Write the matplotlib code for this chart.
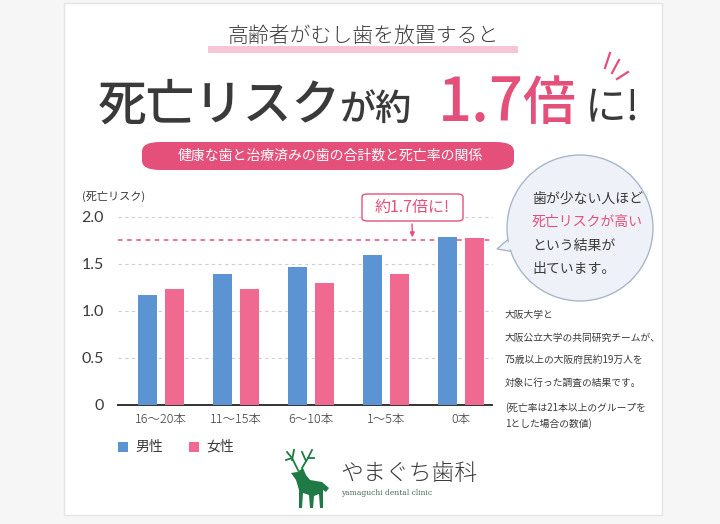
import matplotlib
matplotlib.use("Agg")
import matplotlib.pyplot as plt
from matplotlib.patches import FancyBboxPatch, Rectangle, Polygon, Ellipse
import numpy as np

plt.rcParams['font.family'] = ['Noto Sans CJK JP', 'DejaVu Sans']

categories = ["16～20本", "11～15本", "6～10本", "1～5本", "0本"]
male = [1.17, 1.39, 1.46, 1.59, 1.78]
female = [1.23, 1.23, 1.29, 1.39, 1.77]
yticks = [0, 0.5, 1.0, 1.5, 2.0]
ytick_labels = ["0", "0.5", "1.0", "1.5", "2.0"]
highlight_level = 1.75

BLUE = "#5b93d3"
PINK = "#f06990"
DARK = "#3a3a3a"
PINK_DARK = "#e4507a"

W, H = 720, 524
fig = plt.figure(figsize=(W / 100, H / 100), dpi=100)
fig.patch.set_facecolor("#f6f6f6")

def fx(x):
    return x / W

def fy(y):
    return 1 - y / H

# card
card = Rectangle((fx(64), fy(515)), fx(662) - fx(64), fy(3) - fy(515),
                 transform=fig.transFigure, facecolor="white",
                 edgecolor="#e4e4e4", lw=1.0, zorder=-5)
fig.patches.append(card)

# titles
fig.patches.append(Rectangle((fx(208), fy(53)), fx(518) - fx(208), fy(46) - fy(53),
                             transform=fig.transFigure, facecolor="#f4b3c7",
                             edgecolor="none", alpha=0.75, zorder=-4))
fig.text(fx(363), fy(42), "高齢者がむし歯を放置すると", fontsize=15, color=DARK,
         ha="center", va="baseline", fontweight="light", zorder=3)
fig.text(fx(98), fy(120), "死亡リスク", fontsize=35, color=DARK, ha="left",
         va="baseline", fontweight="medium")
fig.text(fx(340), fy(120), "が約", fontsize=26, color=DARK, ha="left",
         va="baseline", fontweight="medium")
fig.text(fx(438), fy(121), "1.7", fontsize=43, color=PINK_DARK, ha="left",
         va="baseline", fontweight="medium")
fig.text(fx(522), fy(120), "倍", fontsize=38, color=PINK_DARK, ha="left",
         va="baseline", fontweight="medium")
fig.text(fx(585), fy(120), "に!", fontsize=30, color=DARK, ha="left",
         va="baseline", fontweight="regular")
for (x1, y1, x2, y2) in [(610, 53, 605, 68), (619, 60, 612, 73), (628, 72, 617, 79)]:
    fig.lines.append(plt.Line2D([fx(x1), fx(x2)], [fy(y1), fy(y2)],
                                transform=fig.transFigure, color=PINK_DARK, lw=1.6))

# pill
pill = FancyBboxPatch((fx(142), fy(170)), fx(514) - fx(142), fy(142) - fy(170),
                      boxstyle="round,pad=0,rounding_size=0.025",
                      transform=fig.transFigure, facecolor=PINK_DARK,
                      edgecolor="none", mutation_aspect=524 / 720)
fig.patches.append(pill)
fig.text(fx(330), fy(156), "健康な歯と治療済みの歯の合計数と死亡率の関係",
         fontsize=10, color="white", ha="center", va="center")

# axes
ax = fig.add_axes([fx(118), fy(404.7), fx(492) - fx(118), fy(216.7) - fy(404.7)])
ax.set_zorder(2)
ax.set_facecolor("none")
x = np.arange(len(categories))
bw = 0.255
ax.bar(x - 0.18, male, width=bw, color=BLUE, zorder=3)
ax.bar(x + 0.18, female, width=bw, color=PINK, zorder=3)
ax.set_xlim(-0.573, 4.41)
ax.set_ylim(0, 2.0)
ax.set_yticks(yticks)
ax.set_yticklabels(ytick_labels, fontsize=11.5, color=DARK,
                   fontfamily=["Lato", "DejaVu Sans"], fontweight="normal")
ax.set_xticks(x)
ax.set_xticklabels(categories, fontsize=9, color=DARK, fontweight="light")
ax.tick_params(axis="y", length=0, pad=10)
ax.tick_params(axis="x", length=0, pad=6)
for s in ["top", "right", "left"]:
    ax.spines[s].set_visible(False)
ax.spines["bottom"].set_color("#333333")
ax.spines["bottom"].set_linewidth(1.4)
for yv in yticks[1:]:
    ax.axhline(yv, color="#cfcfcf", lw=0.8, ls=(0, (3, 3)), zorder=1, clip_on=False)
ax.axhline(highlight_level, color=PINK_DARK, lw=1.1, ls=(0, (3, 3)), zorder=2)

fig.text(fx(82), fy(196), "(死亡リスク)", fontsize=8, color=DARK, ha="left", va="center")

# callout
box = FancyBboxPatch((fx(362), fy(221)), fx(463) - fx(362), fy(194) - fy(221),
                     boxstyle="round,pad=0,rounding_size=0.008",
                     transform=fig.transFigure, facecolor="white",
                     edgecolor=PINK_DARK, lw=1.0, mutation_aspect=524 / 720, zorder=5)
fig.patches.append(box)
fig.text(fx(412.5), fy(207.5), "約1.7倍に!", fontsize=11.5, color=PINK_DARK,
         ha="center", va="center", zorder=6)
ax.annotate("", xy=(3.35, highlight_level + 0.03), xycoords="data",
            xytext=(fx(412), fy(224)), textcoords="figure fraction",
            arrowprops=dict(arrowstyle="-|>", color=PINK_DARK, lw=1.0,
                            mutation_scale=7, shrinkA=0, shrinkB=0))

# speech bubble
cx, cy, r = 580, 228, 73
tail = Polygon([(fx(512), fy(236)), (fx(497), fy(249)), (fx(515), fy(252))],
               closed=True, transform=fig.transFigure, facecolor="#eef2f8",
               edgecolor="#a9b6c8", lw=1.0, zorder=3)
fig.patches.append(tail)
circ = Ellipse((fx(cx), fy(cy)), 2 * r / W, 2 * r / H,
               transform=fig.transFigure, facecolor="#eef2f8",
               edgecolor="#a9b6c8", lw=1.0, zorder=4)
fig.patches.append(circ)
fig.patches.append(Polygon([(fx(514), fy(238)), (fx(500), fy(248.5)), (fx(518), fy(250))],
                           closed=True, transform=fig.transFigure,
                           facecolor="#eef2f8", edgecolor="none", zorder=5))
bubble_lines = [("歯が少ない人ほど", DARK), ("死亡リスクが高い", PINK_DARK),
                ("という結果が", DARK), ("出ています。", DARK)]
for i, (t, c) in enumerate(bubble_lines):
    fig.text(fx(532), fy(199 + i * 23.3), t, fontsize=10, color=c,
             ha="left", va="center", zorder=6)

note_lines = ["大阪大学と", "大阪公立大学の共同研究チームが、",
              "75歳以上の大阪府民約19万人を", "対象に行った調査の結果です。"]
for i, t in enumerate(note_lines):
    fig.text(fx(505), fy(315 + i * 22.7), t, fontsize=7, color=DARK,
             ha="left", va="center")
fig.text(fx(505), fy(408), "(死亡率は21本以上のグループを", fontsize=7, color=DARK,
         ha="left", va="center")
fig.text(fx(505), fy(424), "1とした場合の数値)", fontsize=7, color=DARK,
         ha="left", va="center")

# legend
for (lx, col, lab) in [(118, BLUE, "男性"), (189, PINK, "女性")]:
    fig.patches.append(Rectangle((fx(lx), fy(452)), 10 / W, 10 / H,
                                 transform=fig.transFigure, facecolor=col,
                                 edgecolor="none"))
    fig.text(fx(lx + 17), fy(447), lab, fontsize=10, color=DARK, ha="left", va="center")

# logo deer (decorative)
GREEN = "#1f7a45"
deer = [(297, 472), (303, 468), (306, 475), (310, 480), (322, 482), (329, 488),
        (326, 492), (323, 490), (323, 508), (320, 508), (319, 494), (314, 496),
        (313, 508), (310, 508), (309, 495), (303, 493), (302, 508), (299, 508),
        (299, 490), (296, 480), (291, 473)]
fig.patches.append(Polygon([(fx(a), fy(b)) for a, b in deer], closed=True,
                           transform=fig.transFigure, facecolor=GREEN, edgecolor="none"))
antlers = [[(298, 470), (292, 458), (287, 452)], [(292, 458), (286, 460)],
           [(292, 460), (294, 450)], [(302, 468), (308, 458), (312, 450)],
           [(308, 458), (314, 458)], [(306, 461), (302, 452)]]
for seg in antlers:
    fig.lines.append(plt.Line2D([fx(a) for a, b in seg], [fy(b) for a, b in seg],
                                transform=fig.transFigure, color=GREEN, lw=1.3))
fig.text(fx(340), fy(473), "やまぐち歯科", fontsize=16.5, color=DARK,
         ha="left", va="center", fontweight="light")
fig.text(fx(341), fy(493), "yamaguchi dental clinic", fontsize=5.5, color="#4a6a55",
         ha="left", va="center", fontfamily=["DejaVu Serif"])

fig.savefig("out.png", dpi=100, facecolor=fig.get_facecolor())
